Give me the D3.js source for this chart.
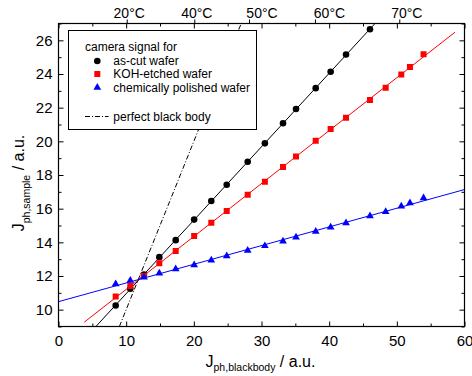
<!DOCTYPE html>
<html><head><meta charset="utf-8">
<script src="https://cdn.jsdelivr.net/npm/d3@7"></script>
<style>
html,body{margin:0;padding:0;background:#fff;}
svg{display:block;font-family:"Liberation Sans",Arial,sans-serif;}
</style></head>
<body><svg id="c" width="472" height="376"></svg>
<script>
// ---- data ----
const jBlackbody = [8.45,10.61,12.63,14.90,17.32,20.05,22.58,24.86,27.96,30.50,33.18,35.10,38.01,40.22,42.49,46.03,48.35,50.66,51.94,53.95];
const asCut      = [10.25,11.24,12.08,13.12,14.13,15.35,16.46,17.42,18.79,19.88,21.07,21.92,23.16,24.13,25.16,26.66];
const kohEtched  = [10.78,11.41,12.00,12.76,13.49,14.38,15.17,15.86,16.83,17.60,18.47,19.10,20.03,20.73,21.40,22.45,23.18,23.97,24.41,25.18];
const polished   = [11.53,11.73,11.93,12.17,12.41,12.66,12.94,13.19,13.51,13.79,14.07,14.30,14.64,14.90,15.15,15.57,15.82,16.14,16.34,16.64];
const seriesNames = ["as-cut wafer","KOH-etched wafer","chemically polished wafer"];
const fitRanges = [[5,47],[3.8,58.6],[0,60]];
const blackBodyRange = [9,27];
const xTicks = [0,10,20,30,40,50,60];
const yTicks = [10,12,14,16,18,20,22,24,26];
const tempLabels = ["20°C","40°C","50°C","60°C","70°C"];
const tempJ = [10.08,20.07,28.15,37.9,50.36];
const tempLabelDx = [2,2,12.5,14,7];

// ---- layout ----
const svg = d3.select("#c");
const L=58.5,R=464.5,T=23.5,B=326.5;
const x = d3.scaleLinear().domain([0,60]).range([L,R]);
const y = d3.scaleLinear().domain([9,27]).range([B,T]);
const colors = ["#000000","#ff0000","#0000ff"];
const symbols = [d3.symbolCircle,d3.symbolSquare,d3.symbolTriangle];
const symSizes = [34,36,26];

svg.append("defs").append("clipPath").attr("id","clip")
  .append("rect").attr("x",L).attr("y",T).attr("width",R-L).attr("height",B-T);

const plot = svg.append("g").attr("clip-path","url(#clip)");

// black body line y = x
plot.append("line")
  .attr("x1",x(blackBodyRange[0])).attr("y1",y(blackBodyRange[0]))
  .attr("x2",x(blackBodyRange[1])).attr("y2",y(blackBodyRange[1]))
  .attr("stroke","#000").attr("stroke-width",1).attr("stroke-dasharray","5,2,1,2");

const allSeries = [asCut,kohEtched,polished];
function regress(xs,ys){
  const n=ys.length, xv=xs.slice(0,n);
  const mx=d3.mean(xv), my=d3.mean(ys);
  let sxy=0,sxx=0;
  for(let i=0;i<n;i++){sxy+=(xv[i]-mx)*(ys[i]-my);sxx+=(xv[i]-mx)**2;}
  const m=sxy/sxx; return [m,my-m*mx];
}
allSeries.forEach((ys,i)=>{
  const [m,b]=regress(jBlackbody,ys);
  const r=fitRanges[i];
  plot.append("line")
    .attr("x1",x(r[0])).attr("y1",y(m*r[0]+b))
    .attr("x2",x(r[1])).attr("y2",y(m*r[1]+b))
    .attr("stroke",colors[i]).attr("stroke-width",1);
});
allSeries.forEach((ys,i)=>{
  const pts = ys.map((v,k)=>[jBlackbody[k],v]);
  plot.selectAll(null).data(pts).enter().append("path")
    .attr("d",d3.symbol().type(symbols[i]).size(symSizes[i]))
    .attr("transform",d=>`translate(${x(d[0])},${y(d[1])})`)
    .attr("fill",colors[i]);
});

// ---- axes ----
function styleAxis(g){
  g.select(".domain").remove();
  g.selectAll("line").attr("stroke","#000").attr("stroke-width",1);
  g.selectAll("text").attr("fill","#000").attr("font-family","Liberation Sans, Arial, sans-serif");
}
const xMinor = d3.range(5,60,10);
const yMinor = d3.range(9,27.01,2);
svg.append("g").attr("transform",`translate(0,${B})`)
  .call(d3.axisBottom(x).tickValues(xTicks).tickSize(-5).tickPadding(9).tickFormat(d3.format("d")))
  .call(styleAxis).call(g=>g.selectAll("text").attr("font-size",15));
svg.append("g").attr("transform",`translate(0,${B})`)
  .call(d3.axisBottom(x).tickValues(xMinor).tickSize(-3).tickFormat(""))
  .call(styleAxis);
svg.append("g").attr("transform",`translate(0,${T})`)
  .call(d3.axisTop(x).tickValues(xTicks).tickSize(-5).tickFormat(""))
  .call(styleAxis);
svg.append("g").attr("transform",`translate(0,${T})`)
  .call(d3.axisTop(x).tickValues(xMinor).tickSize(-3).tickFormat(""))
  .call(styleAxis);
svg.append("g").attr("transform",`translate(${L},0)`)
  .call(d3.axisLeft(y).tickValues(yTicks).tickSize(-5).tickPadding(6).tickFormat(d3.format("d")))
  .call(styleAxis).call(g=>g.selectAll("text").attr("font-size",15));
svg.append("g").attr("transform",`translate(${L},0)`)
  .call(d3.axisLeft(y).tickValues(yMinor).tickSize(-3).tickFormat(""))
  .call(styleAxis);
svg.append("g").attr("transform",`translate(${R},0)`)
  .call(d3.axisRight(y).tickValues(yTicks).tickSize(-5).tickFormat(""))
  .call(styleAxis);
svg.append("g").attr("transform",`translate(${R},0)`)
  .call(d3.axisRight(y).tickValues(yMinor).tickSize(-3).tickFormat(""))
  .call(styleAxis);
// temperature axis
const tg = svg.append("g").attr("transform",`translate(0,${T})`)
  .call(d3.axisTop(x).tickValues(tempJ).tickSize(4).tickPadding(2).tickFormat((d,i)=>tempLabels[i]))
  .call(styleAxis);
tg.selectAll("text").attr("font-size",14).attr("dx",(d,i)=>tempLabelDx[i]);

// frame
svg.append("rect").attr("x",L).attr("y",T).attr("width",R-L).attr("height",B-T)
  .attr("fill","none").attr("stroke","#000").attr("stroke-width",1.2);

// axis titles
const xt = svg.append("text").attr("x",(L+R)/2-1).attr("y",366.5).attr("text-anchor","middle").attr("font-size",16);
xt.append("tspan").text("J");
xt.append("tspan").attr("font-size",10.5).attr("dy",4).text("ph,blackbody");
xt.append("tspan").attr("dy",-4).text(" / a.u.");
const yt = svg.append("text").attr("transform","translate(23.5,183) rotate(-90)").attr("text-anchor","middle").attr("font-size",16);
yt.append("tspan").text("J");
yt.append("tspan").attr("font-size",10.5).attr("dy",6).text("ph,sample");
yt.append("tspan").attr("dy",-6).text(" / a.u.");

// legend
const lg = svg.append("g");
lg.append("rect").attr("x",68.5).attr("y",30.5).attr("width",188).attr("height",99)
  .attr("fill","#fff").attr("stroke","#000").attr("stroke-width",1);
lg.append("text").attr("x",85).attr("y",50.5).attr("font-size",12).text("camera signal for");
const legY = [65,78.3,91.5];
const symY = [61,74,87.5];
seriesNames.forEach((n,i)=>{
  lg.append("path").attr("d",d3.symbol().type(symbols[i]).size(symSizes[i]))
    .attr("transform",`translate(97.3,${symY[i]})`).attr("fill",colors[i]);
  lg.append("text").attr("x",113.3).attr("y",legY[i]).attr("font-size",12).text(n);
});
lg.append("line").attr("x1",85).attr("x2",108.5).attr("y1",116.5).attr("y2",116.5)
  .attr("stroke","#000").attr("stroke-width",1).attr("stroke-dasharray","5,2,1,2");
lg.append("text").attr("x",113.3).attr("y",120.5).attr("font-size",12).text("perfect black body");
</script></body></html>
